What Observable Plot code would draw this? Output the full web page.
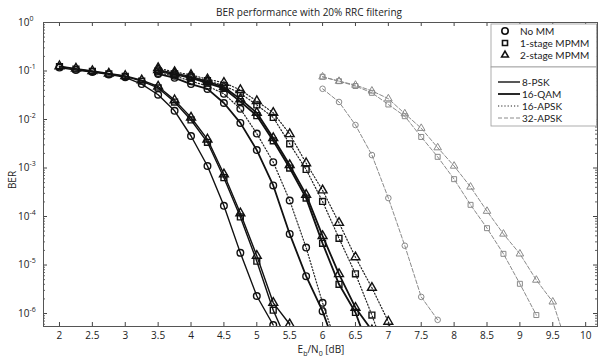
<!DOCTYPE html>
<html>
<head>
<meta charset="utf-8">
<script src="https://cdn.jsdelivr.net/npm/d3@7"></script>
<script src="https://cdn.jsdelivr.net/npm/@observablehq/plot@0.6"></script>
<style>
  html, body { margin: 0; padding: 0; background: #fff; }
  #chart { width: 598px; height: 358px; }
</style>
</head>
<body>
<div id="chart"></div>
<script>
// Eb/N0 grids (dB) for each modulation
const ebn0Psk8  = [2, 2.25, 2.5, 2.75, 3, 3.25, 3.5, 3.75, 4, 4.25, 4.5, 4.75, 5, 5.25, 5.5];
const ebn0Mod16 = [3.5, 3.75, 4, 4.25, 4.5, 4.75, 5, 5.25, 5.5, 5.75, 6, 6.25, 6.5, 6.75, 7, 7.25];
const ebn0Apsk32 = [6, 6.25, 6.5, 6.75, 7, 7.25, 7.5, 7.75, 8, 8.25, 8.5, 8.75, 9, 9.25, 9.5, 9.75];

// BER curves: no mismatch compensation, 1-stage MPMM, 2-stage MPMM
const psk8NoMM = [0.1175, 0.1047, 0.0955, 0.0851, 0.0741, 0.0537, 0.0324, 0.0151, 0.00457, 0.0011, 1.66e-4, 1.78e-5, 2.3e-6, 5.8e-7];
const psk8One  = [0.123, 0.1096, 0.0977, 0.0871, 0.0776, 0.0617, 0.0447, 0.0229, 0.00977, 0.00339, 6.31e-4, 9.8e-5, 1.2e-5, 1.17e-6, 2e-7];
const psk8Two  = [0.1259, 0.1122, 0.1, 0.0891, 0.0794, 0.0646, 0.0479, 0.0251, 0.011, 0.00389, 7.41e-4, 1.17e-4, 1.55e-5, 1.66e-6, 6e-7];

const qam16NoMM = [0.0871, 0.0724, 0.0537, 0.0427, 0.0219, 0.00851, 0.00234, 4.37e-4, 4.37e-5, 5.9e-6, 1.12e-6, 1.26e-7];
const qam16One  = [0.1, 0.0851, 0.0724, 0.0562, 0.0437, 0.0234, 0.012, 0.00363, 0.001, 2.4e-4, 2.8e-5, 4e-6, 1.05e-6, 1.26e-7];
const qam16Two  = [0.1047, 0.0891, 0.0759, 0.0603, 0.0468, 0.0263, 0.0138, 0.00417, 0.00115, 2.82e-4, 3.98e-5, 6.5e-6, 1.32e-6, 4.5e-7];

const apsk16NoMM = [0.0912, 0.0794, 0.0617, 0.049, 0.0339, 0.0166, 0.00513, 0.00132, 2.14e-4, 2.29e-5, 1.66e-6, 1.6e-7];
const apsk16One  = [0.1, 0.0871, 0.0759, 0.0631, 0.0501, 0.0347, 0.02, 0.011, 0.00316, 9.33e-4, 2.04e-4, 3.55e-5, 6.6e-6, 9.3e-7, 1e-7];
const apsk16Two  = [0.1148, 0.0955, 0.0832, 0.0676, 0.0575, 0.0407, 0.024, 0.0138, 0.00501, 0.00126, 3.47e-4, 7.4e-5, 1.45e-5, 3.4e-6, 6.8e-7, 6.3e-8];

const apsk32NoMM = [0.043, 0.023, 0.0077, 0.00185, 2.4e-4, 2.5e-5, 2.2e-6, 7.4e-7];
const apsk32One  = [0.0759, 0.0617, 0.049, 0.0355, 0.0204, 0.0117, 0.00437, 0.0017, 5.89e-4, 1.74e-4, 5.75e-5, 1.7e-5, 4.1e-6, 9.3e-7];
const apsk32Two  = [0.0759, 0.0617, 0.0513, 0.0389, 0.0269, 0.0132, 0.00661, 0.00263, 0.0011, 4.07e-4, 1.29e-4, 4.37e-5, 1.7e-5, 4.9e-6, 1.74e-6, 1.6e-7];

// Axis tick values and legend labels
const xTicks = [2, 2.5, 3, 3.5, 4, 4.5, 5, 5.5, 6, 6.5, 7, 7.5, 8, 8.5, 9, 9.5, 10];
const yMajor = [1, 1e-1, 1e-2, 1e-3, 1e-4, 1e-5, 1e-6];
const yMinorMult = [2, 3, 4, 5, 6, 7, 8, 9];
const methodLabels = ["No MM", "1-stage MPMM", "2-stage MPMM"];
const schemeLabels = ["8-PSK", "16-QAM", "16-APSK", "32-APSK"];

// Line style per modulation, marker per method
const schemeStyle = {
  "8-PSK":   {stroke: "#111", width: 1.4, dash: null},
  "16-QAM":  {stroke: "#111", width: 1.8, dash: null},
  "16-APSK": {stroke: "#222", width: 1.2, dash: "1.2,2"},
  "32-APSK": {stroke: "#8a8a8a", width: 1, dash: "4,2"}
};
const methodSymbol = {"No MM": "circle", "1-stage MPMM": "square", "2-stage MPMM": "triangle"};

const seriesDefs = [
  ["8-PSK", "No MM", ebn0Psk8, psk8NoMM],
  ["8-PSK", "1-stage MPMM", ebn0Psk8, psk8One],
  ["8-PSK", "2-stage MPMM", ebn0Psk8, psk8Two],
  ["16-QAM", "No MM", ebn0Mod16, qam16NoMM],
  ["16-QAM", "1-stage MPMM", ebn0Mod16, qam16One],
  ["16-QAM", "2-stage MPMM", ebn0Mod16, qam16Two],
  ["16-APSK", "No MM", ebn0Mod16, apsk16NoMM],
  ["16-APSK", "1-stage MPMM", ebn0Mod16, apsk16One],
  ["16-APSK", "2-stage MPMM", ebn0Mod16, apsk16Two],
  ["32-APSK", "No MM", ebn0Apsk32, apsk32NoMM],
  ["32-APSK", "1-stage MPMM", ebn0Apsk32, apsk32One],
  ["32-APSK", "2-stage MPMM", ebn0Apsk32, apsk32Two]
];

const series = seriesDefs.map(([scheme, method, xs, ys]) => ({
  scheme, method,
  rows: ys.map((ber, i) => ({ebn0: xs[i], ber}))
}));

const yMinor = yMajor.slice(1).flatMap(p => yMinorMult.map(m => m * p)).concat(yMinorMult.slice(4).map(m => m * 1e-7));

const W = 598, H = 358;
const mL = 43, mR = 1, mT = 22, mB = 32;
const innerW = W - mL - mR, innerH = H - mT - mB;
const font = "'Open Sans', Lato, sans-serif";
const legendFont = "Lato, 'Open Sans', sans-serif";
const ink = "#222";

const curveMarks = series.flatMap(s => {
  const st = schemeStyle[s.scheme];
  const gray = s.scheme === "32-APSK";
  return [
    Plot.line(s.rows, {
      x: "ebn0", y: "ber", stroke: st.stroke, strokeWidth: st.width,
      strokeDasharray: st.dash, clip: true
    }),
    Plot.dot(s.rows, {
      x: "ebn0", y: "ber", symbol: methodSymbol[s.method],
      r: gray ? 2.8 : 3.3, fill: "none",
      stroke: gray ? "#8a8a8a" : "#111", strokeWidth: gray ? 1 : 1.4, clip: true
    })
  ];
});

const plot = Plot.plot({
  width: W, height: H,
  marginLeft: mL, marginRight: mR, marginTop: mT, marginBottom: mB,
  style: {fontFamily: font, fontSize: "10px", color: ink, background: "#fff"},
  x: {domain: [1.757, 10.18]},
  y: {type: "log", domain: [5.4e-7, 1]},
  marks: [
    // inward ticks on all four sides
    Plot.tickX(xTicks, {x: d => d, insetTop: innerH - 4, stroke: "#444"}),
    Plot.tickX(xTicks, {x: d => d, insetBottom: innerH - 4, stroke: "#444"}),
    Plot.tickY(yMajor, {y: d => d, insetRight: innerW - 4, stroke: "#444"}),
    Plot.tickY(yMajor, {y: d => d, insetLeft: innerW - 4, stroke: "#444"}),
    Plot.tickY(yMinor, {y: d => d, insetRight: innerW - 2, stroke: "#666", clip: true}),
    Plot.tickY(yMinor, {y: d => d, insetLeft: innerW - 2, stroke: "#666", clip: true}),
    Plot.axisX(xTicks, {tickSize: 0, tickPadding: 5, tickFormat: d => String(d), label: null, fontSize: 10}),
    Plot.axisY(yMajor, {tickSize: 0, tickPadding: 14, tickFormat: () => "10", label: null, fontSize: 10}),
    Plot.axisY(yMajor, {tickSize: 0, tickPadding: 14, textAnchor: "start", dy: -4, fontSize: 7,
      tickFormat: d => String(Math.round(Math.log10(d))), label: null}),
    ...curveMarks,
    Plot.frame({stroke: "#555", strokeWidth: 1})
  ]
});

document.getElementById("chart").appendChild(plot);

// Titles, axis labels and the two-part legend
const svg = d3.select(plot);
const txt = svg.append("g").attr("font-family", font).attr("fill", ink).attr("font-size", 10);

txt.append("text").attr("x", 309).attr("y", 16).attr("text-anchor", "middle")
  .text("BER performance with 20% RRC filtering");

txt.append("text").attr("transform", "translate(16,180) rotate(-90)").attr("text-anchor", "middle")
  .text("BER");

const xl = txt.append("text").attr("x", 321).attr("y", 353).attr("text-anchor", "middle");
xl.append("tspan").text("E");
xl.append("tspan").attr("dy", 2.5).attr("font-size", 7).text("b");
xl.append("tspan").attr("dy", -2.5).text("/N");
xl.append("tspan").attr("dy", 2.5).attr("font-size", 7).text("0");
xl.append("tspan").attr("dy", -2.5).text(" [dB]");

const lg = svg.append("g").attr("font-family", legendFont).attr("font-size", 10)
  .attr("fill", ink).attr("text-anchor", "start");
lg.append("rect").attr("x", 491).attr("y", 24).attr("width", 105.5).attr("height", 43)
  .attr("fill", "#fff").attr("stroke", "#999").attr("stroke-width", 0.8);
lg.append("rect").attr("x", 491).attr("y", 67).attr("width", 105.5).attr("height", 59)
  .attr("fill", "#fff").attr("stroke", "#999").attr("stroke-width", 0.8);

const symType = {circle: d3.symbolCircle, square: d3.symbolSquare2, triangle: d3.symbolTriangle2};
methodLabels.forEach((m, i) => {
  const y = 31 + i * 12;
  lg.append("path")
    .attr("d", d3.symbol(symType[methodSymbol[m]], Math.PI * 3.2 * 3.2)())
    .attr("transform", `translate(505,${y})`)
    .attr("fill", "none").attr("stroke", "#111").attr("stroke-width", 1.6);
  lg.append("text").attr("x", 520).attr("y", y).attr("dy", "0.35em").text(m);
});

schemeLabels.forEach((s, i) => {
  const y = 82 + i * 12;
  const st = schemeStyle[s];
  lg.append("line").attr("x1", 498).attr("x2", 520).attr("y1", y).attr("y2", y)
    .attr("stroke", st.stroke).attr("stroke-width", st.width)
    .attr("stroke-dasharray", st.dash);
  lg.append("text").attr("x", 522).attr("y", y).attr("dy", "0.35em").text(s);
});
</script>
</body>
</html>
